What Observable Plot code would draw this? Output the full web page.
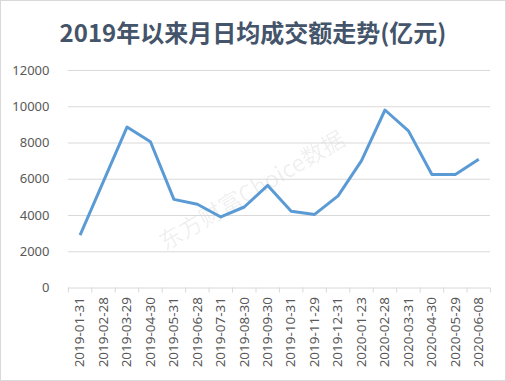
<!DOCTYPE html>
<html>
<head>
<meta charset="utf-8">
<script src="https://cdn.jsdelivr.net/npm/d3@7"></script>
<script src="https://cdn.jsdelivr.net/npm/@observablehq/plot@0.6"></script>
<style>
  html, body { margin: 0; padding: 0; background: #fff; }
  #wrap { position: relative; width: 506px; height: 381px; box-sizing: border-box; border: 1px solid #d9d9d9; overflow: hidden; }
  #title { position: absolute; left: 0; top: 0; width: 504px; height: 57px; line-height: 62px; text-align: center;
    font-family: "Noto Sans CJK SC", sans-serif; font-weight: bold; font-size: 24px; color: #44546a; }
  #chart { position: absolute; left: -1px; top: 57px; }
  #wm { position: absolute; left: 250px; top: 188px; transform: translate(-50%, -50%) rotate(-30.5deg);
    font-family: "Noto Sans CJK SC", sans-serif; font-size: 23px; color: rgba(0,0,0,0.07); white-space: nowrap; pointer-events: none; }
</style>
</head>
<body>
<div id="wrap">
  <div id="title">2019年以来月日均成交额走势(亿元)</div>
  <div id="wm">东方财富Choice数据</div>
  <div id="chart"></div>
</div>
<script>
const dates = ["2019-01-31","2019-02-28","2019-03-29","2019-04-30","2019-05-31","2019-06-28","2019-07-31","2019-08-30","2019-09-30","2019-10-31","2019-11-29","2019-12-31","2020-01-23","2020-02-28","2020-03-31","2020-04-30","2020-05-29","2020-06-08"];
const values = [2920, 5900, 8880, 8070, 4890, 4620, 3920, 4470, 5660, 4230, 4060, 5080, 7030, 9820, 8670, 6260, 6260, 7100];
const yTicks = [0, 2000, 4000, 6000, 8000, 10000, 12000];

const data = dates.map((d, i) => ({i, date: d, value: values[i]}));
const idx = dates.map((d, i) => i);
const bounds = d3.range(dates.length + 1).map(i => i - 0.5);

const chart = Plot.plot({
  width: 506,
  height: 324,
  marginTop: 12,
  marginBottom: 94,
  marginLeft: 68,
  marginRight: 15,
  style: {fontFamily: "'Noto Sans', sans-serif", color: "#595959", background: "transparent"},
  x: {type: "linear", domain: [-0.5, dates.length - 0.5]},
  y: {domain: [0, 12000]},
  marks: [
    Plot.gridY(yTicks.filter(v => v > 0), {stroke: "#d9d9d9", strokeOpacity: 1, strokeWidth: 1}),
    Plot.axisY(yTicks, {tickSize: 0, tickPadding: 19, fontSize: 13, label: null, fill: "#595959", tickFormat: d => String(d)}),
    Plot.ruleY([0], {stroke: "#d9d9d9"}),
    Plot.axisX(bounds, {tickSize: 5, tickFormat: () => "", stroke: "#d9d9d9", label: null}),
    Plot.axisX(idx, {tickSize: 0, tickPadding: 9, tickRotate: -90, tickFormat: i => dates[i], fontSize: 13.5, label: null, fill: "#595959"}),
    Plot.line(data, {x: "i", y: "value", stroke: "#5b9bd5", strokeWidth: 3, strokeLinejoin: "round", strokeLinecap: "butt"})
  ]
});
document.getElementById("chart").appendChild(chart);
</script>
</body>
</html>
